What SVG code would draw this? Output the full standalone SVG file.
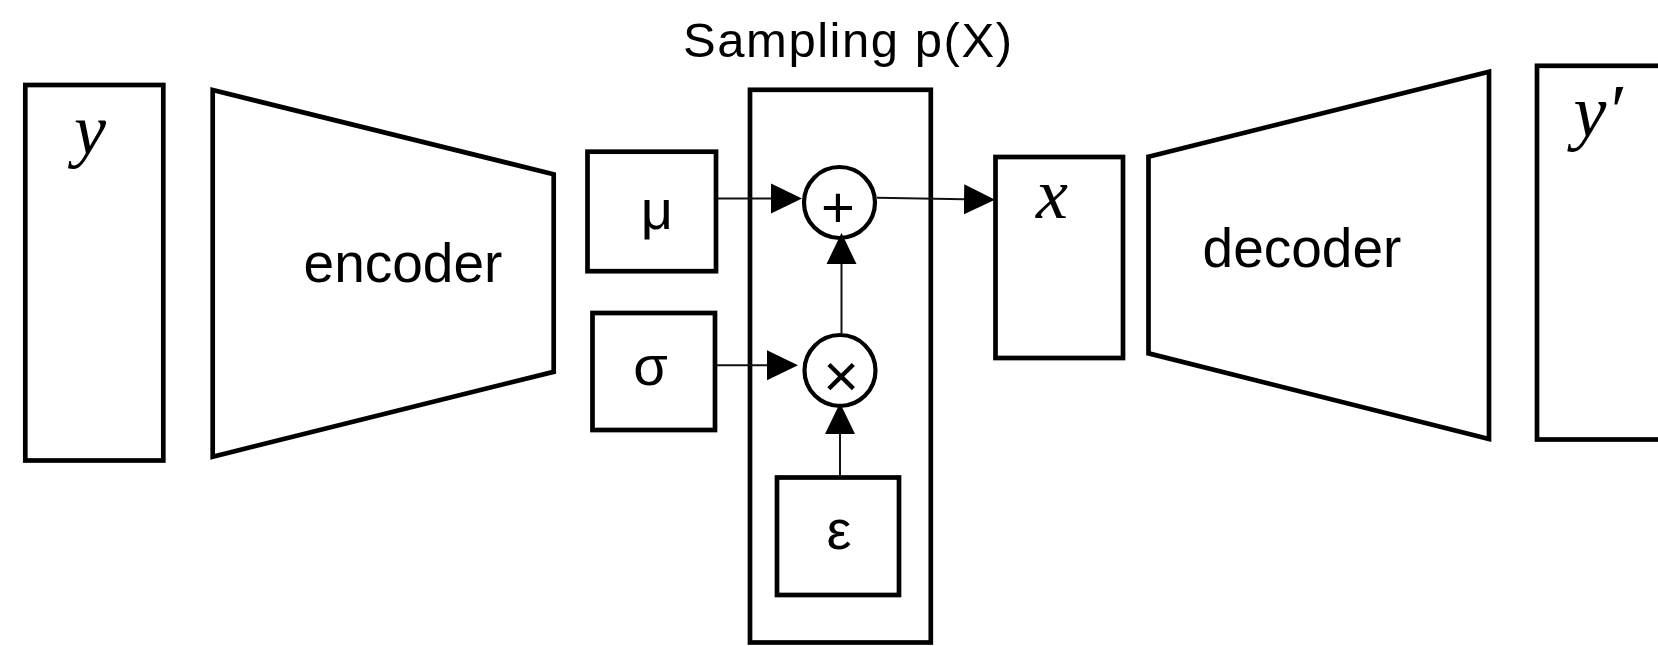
<svg xmlns="http://www.w3.org/2000/svg" width="1658" height="646" viewBox="0 0 1658 646">
  <style>
    .box { fill: #ffffff; stroke: #000000; stroke-width: 4.7; }
    .op { fill: #ffffff; stroke: #000000; stroke-width: 4.2; }
    .conn { fill: none; stroke: #111111; stroke-width: 2; }
    .lbl { font-family: "Liberation Sans", Arial, sans-serif; fill: #000000; text-anchor: middle; }
    .math { font-family: "Liberation Serif", "Times New Roman", serif; font-style: italic; fill: #000000; text-anchor: middle; }
  </style>
  <defs>
    <marker id="arrow" markerUnits="userSpaceOnUse" markerWidth="32" markerHeight="32" viewBox="0 -16 32 32" refX="0" refY="0" orient="auto">
      <path d="M0,-15 L31,0 L0,15 Z" fill="#000000"/>
    </marker>
  </defs>
  <rect width="1658" height="646" fill="#ffffff"/>

  <text class="lbl" x="847.5" y="57" font-size="49" textLength="329" lengthAdjust="spacing">Sampling p(X)</text>

  <g id="node-y">
    <rect class="box" x="25.3" y="85" width="138" height="375.5"/>
    <text class="math" x="90" y="154" font-size="72">y</text>
  </g>

  <g id="node-encoder">
    <polygon class="box" points="212.7,90 553.7,174.3 553.7,371.8 212.7,456.7"/>
    <text class="lbl" x="403" y="282" font-size="55">encoder</text>
  </g>

  <g id="node-mu">
    <rect class="box" x="587.5" y="151.7" width="128.5" height="119.5"/>
    <text class="lbl" x="657" y="228.5" font-size="56">μ</text>
  </g>

  <g id="node-sigma">
    <rect class="box" x="592.5" y="313" width="122.5" height="117"/>
    <text class="lbl" x="650.5" y="385" font-size="56">σ</text>
  </g>

  <g id="node-sampling">
    <rect class="box" style="fill:none" x="750" y="89.8" width="180.8" height="552.7"/>
  </g>

  <g id="node-plus">
    <circle class="op" cx="839.5" cy="202.5" r="35.5"/>
    <text class="lbl" x="838" y="227" font-size="58">+</text>
  </g>

  <g id="node-times">
    <circle class="op" cx="840" cy="370.5" r="35.5"/>
    <text class="lbl" x="841" y="397" font-size="62">×</text>
  </g>

  <g id="node-epsilon">
    <rect class="box" x="777" y="477.5" width="122" height="117.5"/>
    <text class="lbl" x="839" y="548.5" font-size="56">ε</text>
  </g>

  <g id="node-x">
    <rect class="box" x="995.5" y="157" width="127.5" height="201"/>
    <text class="math" x="1052" y="218" font-size="72">x</text>
  </g>

  <g id="node-decoder">
    <polygon class="box" points="1148.5,156.7 1489,71.7 1489,439 1148.5,353.3"/>
    <text class="lbl" x="1302" y="266.5" font-size="55">decoder</text>
  </g>

  <g id="node-yprime">
    <rect class="box" x="1537" y="65.8" width="140" height="373.7"/>
    <text class="math" x="1598" y="136" font-size="74">y′</text>
  </g>

  <g id="connectors">
    <line class="conn" x1="718" y1="198.5" x2="771" y2="198.5" marker-end="url(#arrow)"/>
    <line class="conn" x1="877" y1="197.8" x2="964" y2="199.3" marker-end="url(#arrow)"/>
    <line class="conn" x1="717" y1="365.3" x2="767" y2="365.3" marker-end="url(#arrow)"/>
    <line class="conn" x1="841.5" y1="333" x2="841.5" y2="264" marker-end="url(#arrow)"/>
    <line class="conn" x1="840" y1="477" x2="840" y2="434" marker-end="url(#arrow)"/>
  </g>
</svg>
